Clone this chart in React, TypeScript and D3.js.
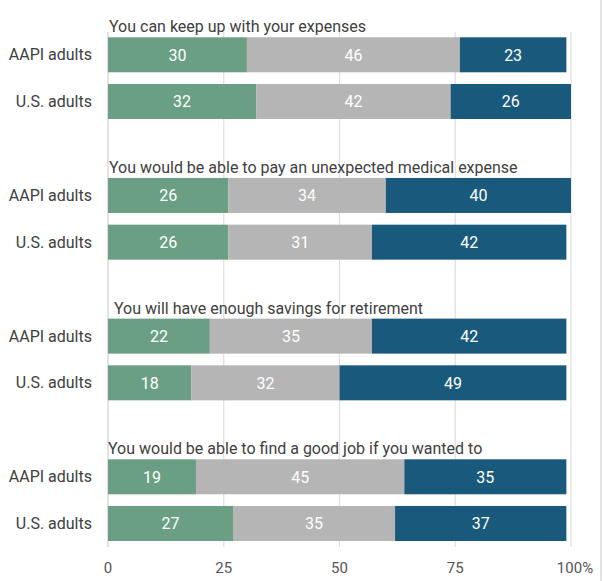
import React from "react";
import * as d3 from "d3";

const questions = [
  "You can keep up with your expenses",
  "You would be able to pay an unexpected medical expense",
  "You will have enough savings for retirement",
  "You would be able to find a good job if you wanted to",
];
const groups = ["AAPI adults", "U.S. adults"];
const segments = ["low", "mid", "high"];
// values[question][group] = [green, gray, blue]
const aapiValues = [
  [30, 46, 23],
  [26, 34, 40],
  [22, 35, 42],
  [19, 45, 35],
];
const usValues = [
  [32, 42, 26],
  [26, 31, 42],
  [18, 32, 49],
  [27, 35, 37],
];
const tickValues = [0, 25, 50, 75, 100];
const tickLabels = ["0", "25", "50", "75", "100%"];
const titleIndent = [1, 1, 6, 0];

const colors = ["#6a9f83", "#b5b5b5", "#195a7c"];

export default function App() {
  const W = 603;
  const H = 581;
  const x = d3.scaleLinear().domain([0, 100]).range([108, 571]);
  const gy = d3.scalePoint<string>().domain(questions).range([37.3, 459.3]);
  const ry = d3.scalePoint<string>().domain(groups).range([0, 46.7]);
  const barH = 35;
  const font = "Roboto, 'Noto Sans', sans-serif";

  const rows: { q: number; g: string; vals: number[] }[] = [];
  questions.forEach((q, i) => {
    rows.push({ q: i, g: groups[0], vals: aapiValues[i] });
    rows.push({ q: i, g: groups[1], vals: usValues[i] });
  });

  return (
    <svg
      width={W}
      height={H}
      style={{ position: "absolute", left: 0, top: 0, background: "#fff" }}
      fontFamily={font}
    >
      {/* gridlines */}
      {tickValues.map((t) => (
        <line
          key={"g" + t}
          x1={x(t)}
          x2={x(t)}
          y1={32}
          y2={547}
          stroke={t === 0 ? "#cfcfcf" : "#dedede"}
          strokeWidth={1.2}
        />
      ))}
      {/* right frame line */}
      <line x1={601} x2={601} y1={0} y2={H} stroke="#e2e2e2" strokeWidth={2} />
      {/* titles */}
      {questions.map((q, i) => (
        <text
          key={q}
          x={x(0) + titleIndent[i]}
          y={(gy(q) as number) - 5}
          fontSize={16}
          fill="#404040"
        >
          {q}
        </text>
      ))}
      {/* bars */}
      {rows.map((r, ri) => {
        const y0 = (gy(questions[r.q]) as number) + (ry(r.g) as number);
        const stack = d3.cumsum(r.vals);
        return (
          <g key={ri}>
            <text
              x={92}
              y={y0 + barH / 2}
              dy="0.35em"
              textAnchor="end"
              fontSize={16}
              fill="#404040"
            >
              {r.g}
            </text>
            {r.vals.map((v, si) => {
              const start = si === 0 ? 0 : stack[si - 1];
              const x0 = x(start);
              const x1 = x(start + v);
              return (
                <g key={segments[si]}>
                  <rect x={x0} y={y0} width={x1 - x0} height={barH} fill={colors[si]} />
                  <text
                    x={(x0 + x1) / 2}
                    y={y0 + barH / 2}
                    dy="0.36em"
                    textAnchor="middle"
                    fontSize={16}
                    fill="#ffffff"
                  >
                    {v}
                  </text>
                </g>
              );
            })}
          </g>
        );
      })}
      {/* axis labels */}
      {tickValues.map((t, i) => (
        <text
          key={"t" + t}
          x={x(t) + (t === 100 ? 4 : 0)}
          y={568}
          dy="0.35em"
          textAnchor="middle"
          fontSize={15}
          fill="#555555"
        >
          {tickLabels[i]}
        </text>
      ))}
    </svg>
  );
}
